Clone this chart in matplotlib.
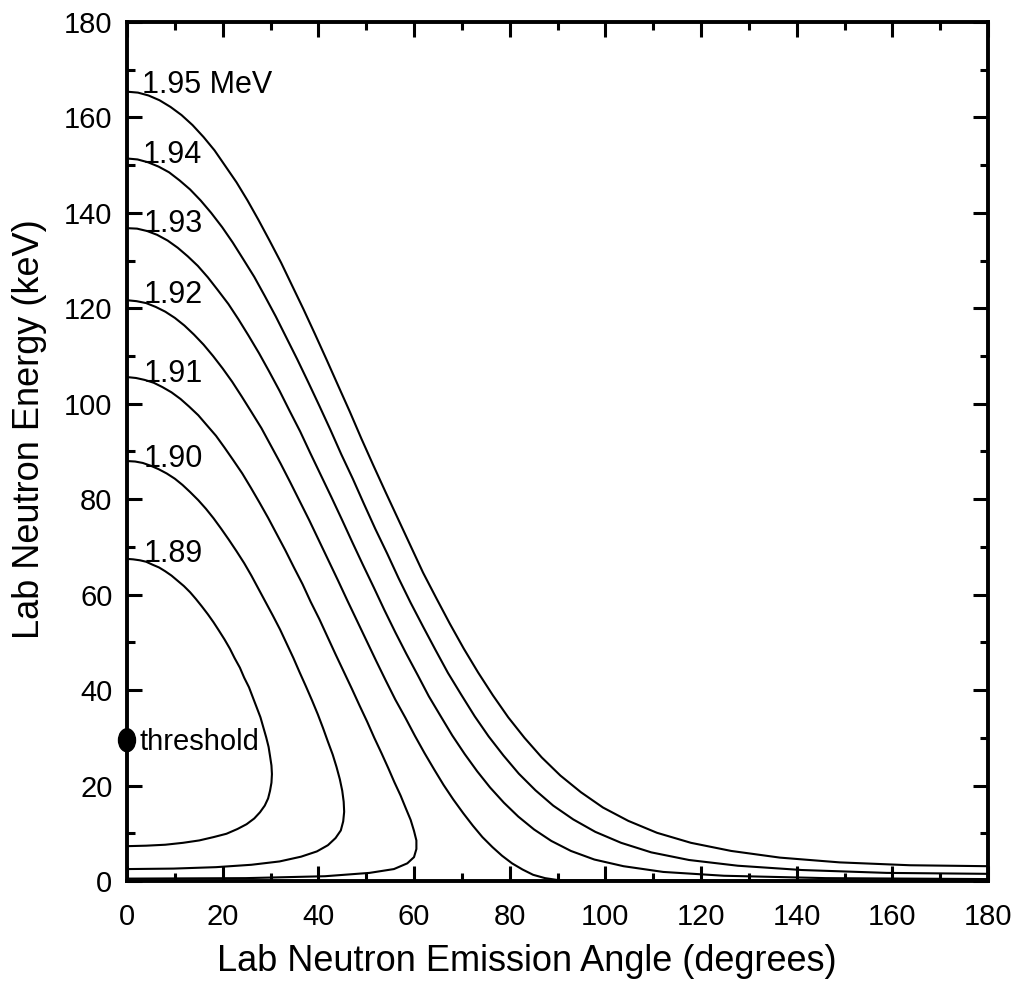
import matplotlib
matplotlib.use("Agg")
import matplotlib.pyplot as plt
from matplotlib.patches import Ellipse
from matplotlib.ticker import MultipleLocator

plt.rcParams['font.family'] = ['Liberation Sans', 'DejaVu Sans']

# Proton beam energies (MeV) and their curve labels
beam_energies = [1.89, 1.90, 1.91, 1.92, 1.93, 1.94, 1.95]
beam_labels = ["1.89", "1.90", "1.91", "1.92", "1.93", "1.94", "1.95 MeV"]

# Lab neutron emission angle (degrees) and lab neutron energy (keV) per beam energy
angle_189 = [0.0, 1.3, 2.7, 4.0, 5.3, 6.7, 8.0, 9.3, 10.6, 11.9, 13.2, 14.4, 15.6, 16.9,
             18.1, 19.2, 20.4, 21.5, 22.5, 23.6, 24.5, 25.5, 26.3, 27.1, 27.9, 28.5, 29.1,
             29.6, 29.9, 30.2, 30.3, 30.2, 29.9, 29.5, 28.8, 27.8, 26.6, 25.0, 23.1, 20.8,
             18.1, 15.1, 11.7, 8.0, 4.0, 0.0]
energy_189 = [67.5, 67.4, 67.2, 66.9, 66.3, 65.7, 64.9, 64.0, 62.9, 61.8, 60.5, 59.1, 57.6,
              55.9, 54.2, 52.5, 50.6, 48.7, 46.7, 44.7, 42.6, 40.6, 38.5, 36.4, 34.3, 32.2,
              30.1, 28.1, 26.2, 24.2, 22.4, 20.6, 18.9, 17.3, 15.8, 14.4, 13.1, 11.9, 10.9,
              9.9, 9.2, 8.5, 8.0, 7.6, 7.4, 7.3]

angle_190 = [0.0, 1.7, 3.3, 5.0, 6.6, 8.3, 10.0, 11.6, 13.2, 14.9, 16.5, 18.1, 19.7, 21.3,
             22.9, 24.5, 26.0, 27.5, 29.0, 30.5, 32.0, 33.4, 34.8, 36.1, 37.4, 38.7, 39.9,
             41.0, 42.0, 43.0, 43.8, 44.5, 45.0, 45.3, 45.4, 45.2, 44.7, 43.6, 42.0, 39.7,
             36.4, 31.9, 26.0, 18.6, 9.7, 0.0]
energy_190 = [88.0, 87.9, 87.6, 87.0, 86.3, 85.4, 84.3, 83.0, 81.5, 79.8, 78.0, 76.0, 73.8,
              71.5, 69.1, 66.6, 64.0, 61.2, 58.4, 55.6, 52.7, 49.7, 46.7, 43.7, 40.8, 37.8,
              34.9, 32.0, 29.2, 26.5, 23.9, 21.3, 18.9, 16.6, 14.5, 12.5, 10.6, 9.0, 7.5,
              6.2, 5.1, 4.1, 3.4, 2.9, 2.6, 2.5]

angle_191 = [0.0, 1.9, 3.7, 5.6, 7.4, 9.3, 11.2, 13.0, 14.9, 16.7, 18.6, 20.4, 22.2, 24.1,
             25.9, 27.7, 29.5, 31.3, 33.1, 34.9, 36.7, 38.4, 40.2, 41.9, 43.6, 45.3, 47.0,
             48.6, 50.2, 51.7, 53.2, 54.6, 55.9, 57.2, 58.3, 59.3, 60.0, 60.5, 60.5, 60.0,
             58.6, 55.8, 50.7, 41.4, 24.8, 0.0]
energy_191 = [105.6, 105.4, 105.0, 104.4, 103.5, 102.4, 101.0, 99.4, 97.6, 95.5, 93.3, 90.8,
              88.2, 85.4, 82.4, 79.3, 76.1, 72.7, 69.3, 65.7, 62.2, 58.5, 54.9, 51.2, 47.5,
              43.9, 40.3, 36.8, 33.4, 30.0, 26.8, 23.7, 20.7, 17.9, 15.2, 12.8, 10.5, 8.5,
              6.7, 5.0, 3.7, 2.5, 1.7, 1.0, 0.6, 0.5]

angle_192 = [0.0, 2.0, 4.0, 6.0, 8.0, 10.0, 12.0, 14.0, 16.0, 18.0, 20.0, 22.0, 24.0, 26.0,
             28.1, 30.1, 32.1, 34.1, 36.1, 38.1, 40.1, 42.1, 44.1, 46.1, 48.1, 50.1, 52.1,
             54.1, 56.1, 58.2, 60.2, 62.2, 64.2, 66.2, 68.2, 70.3, 72.3, 74.3, 76.4, 78.4,
             80.5, 82.7, 84.9, 87.4, 90.7, 180.0]
energy_192 = [121.7, 121.5, 121.1, 120.3, 119.3, 118.0, 116.4, 114.5, 112.4, 110.0, 107.4,
              104.6, 101.5, 98.3, 94.9, 91.2, 87.5, 83.6, 79.6, 75.6, 71.4, 67.2, 63.0, 58.7,
              54.5, 50.3, 46.1, 42.0, 38.0, 34.2, 30.4, 26.8, 23.4, 20.1, 17.1, 14.2, 11.6,
              9.2, 7.1, 5.3, 3.7, 2.4, 1.3, 0.6, 0.1, 0.0]

angle_193 = [0.0, 2.1, 4.2, 6.3, 8.5, 10.6, 12.7, 14.8, 16.9, 19.0, 21.2, 23.3, 25.4, 27.6,
             29.7, 31.9, 34.0, 36.2, 38.3, 40.5, 42.7, 44.9, 47.1, 49.3, 51.6, 53.8, 56.1,
             58.4, 60.8, 63.1, 65.6, 68.0, 70.6, 73.2, 75.9, 78.8, 81.8, 85.1, 88.7, 92.8,
             97.7, 103.8, 112.1, 124.8, 146.1, 180.0]
energy_193 = [136.8, 136.7, 136.2, 135.4, 134.2, 132.7, 130.9, 128.9, 126.5, 123.8, 120.9,
              117.7, 114.3, 110.6, 106.8, 102.7, 98.5, 94.2, 89.7, 85.1, 80.5, 75.8, 71.0,
              66.3, 61.5, 56.8, 52.1, 47.6, 43.1, 38.7, 34.5, 30.5, 26.6, 23.0, 19.6, 16.4,
              13.5, 10.8, 8.4, 6.3, 4.5, 3.1, 1.9, 1.1, 0.6, 0.4]

angle_194 = [0.0, 2.2, 4.4, 6.6, 8.8, 11.0, 13.2, 15.4, 17.6, 19.9, 22.1, 24.3, 26.6, 28.8,
             31.1, 33.3, 35.6, 37.9, 40.2, 42.5, 44.8, 47.2, 49.5, 51.9, 54.4, 56.8, 59.3,
             61.9, 64.5, 67.1, 69.9, 72.7, 75.6, 78.7, 81.9, 85.4, 89.1, 93.3, 97.9, 103.3,
             109.6, 117.5, 127.7, 141.1, 158.8, 180.0]
energy_194 = [151.4, 151.2, 150.6, 149.7, 148.5, 146.8, 144.9, 142.6, 140.0, 137.0, 133.8,
              130.3, 126.6, 122.6, 118.3, 113.9, 109.3, 104.5, 99.6, 94.6, 89.4, 84.3, 79.1,
              73.8, 68.6, 63.4, 58.3, 53.3, 48.4, 43.6, 39.0, 34.5, 30.3, 26.3, 22.5, 19.0,
              15.8, 12.9, 10.3, 8.0, 6.0, 4.4, 3.2, 2.3, 1.7, 1.5]

angle_195 = [0.0, 2.3, 4.5, 6.8, 9.1, 11.4, 13.7, 16.0, 18.3, 20.5, 22.9, 25.2, 27.5, 29.8,
             32.2, 34.5, 36.9, 39.3, 41.7, 44.1, 46.6, 49.0, 51.5, 54.1, 56.7, 59.3, 61.9,
             64.7, 67.5, 70.4, 73.4, 76.5, 79.7, 83.1, 86.7, 90.6, 94.9, 99.5, 104.8, 110.8,
             117.9, 126.3, 136.5, 149.0, 163.7, 180.0]
energy_195 = [165.4, 165.2, 164.6, 163.6, 162.2, 160.5, 158.4, 155.9, 153.1, 149.9, 146.4,
              142.6, 138.5, 134.2, 129.6, 124.8, 119.8, 114.6, 109.3, 103.9, 98.3, 92.7, 87.1,
              81.4, 75.8, 70.2, 64.6, 59.2, 53.9, 48.7, 43.7, 38.9, 34.3, 30.0, 25.9, 22.1,
              18.6, 15.4, 12.6, 10.1, 8.0, 6.3, 4.9, 3.9, 3.3, 3.1]

# Reaction threshold: neutron energy at 0 degrees
threshold_angle = 0.0
threshold_energy = 29.5

curve_angles = [angle_189, angle_190, angle_191, angle_192, angle_193, angle_194, angle_195]
curve_energies = [energy_189, energy_190, energy_191, energy_192, energy_193, energy_194, energy_195]

# Placement of the beam-energy labels (left edge, baseline) in data units
label_x = [3.4, 3.4, 3.4, 3.4, 3.4, 3.3, 3.1]
label_y = [66.8, 86.8, 104.6, 121.1, 136.0, 150.5, 165.1]

fig = plt.figure(figsize=(10.21, 9.88), dpi=100)
ax = fig.add_axes([127/1021, 1-881/988, 861/1021, 859/988])

for th, en in zip(curve_angles, curve_energies):
    ax.plot(th, en, color='black', lw=1.5, solid_joinstyle='round')

for t, xx, yy in zip(beam_labels, label_x, label_y):
    ax.text(xx, yy, t, fontsize=22, ha='left', va='baseline')

ax.add_patch(Ellipse((threshold_angle, threshold_energy), 3.55, 4.8,
                     color='black', clip_on=False, zorder=5))
ax.text(threshold_angle + 2.7, threshold_energy - 2.0, "threshold",
        fontsize=21, ha='left', va='baseline')

ax.set_xlim(0, 180)
ax.set_ylim(0, 180)
ax.xaxis.set_major_locator(MultipleLocator(20))
ax.xaxis.set_minor_locator(MultipleLocator(10))
ax.yaxis.set_major_locator(MultipleLocator(20))
ax.yaxis.set_minor_locator(MultipleLocator(10))
ax.tick_params(which='both', direction='in', top=True, right=True, width=2.2)
ax.tick_params(which='major', length=10.8, labelsize=21)
ax.tick_params(which='minor', length=5.8)
ax.tick_params(axis='x', which='major', pad=16)
ax.tick_params(axis='y', which='major', pad=10.5)
for s in ax.spines.values():
    s.set_linewidth(2.8)

ax.set_xlabel("Lab Neutron Emission Angle (degrees)", fontsize=26)
ax.set_ylabel("Lab Neutron Energy (keV)", fontsize=26)
ax.xaxis.set_label_coords(0.4646, -0.0733)
ax.yaxis.set_label_coords(-0.0929, 0.5262)

fig.savefig("out.png", dpi=100)
